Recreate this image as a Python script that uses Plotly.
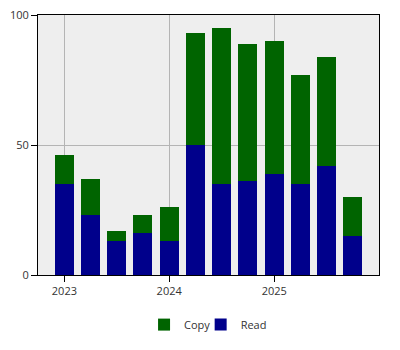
import plotly.graph_objects as go

quarters = ["2023-01-01", "2023-04-01", "2023-07-01", "2023-10-01",
            "2024-01-01", "2024-04-01", "2024-07-01", "2024-10-01",
            "2025-01-01", "2025-04-01", "2025-07-01", "2025-10-01"]
read = [35, 23, 13, 16, 13, 50, 35, 36, 39, 35, 42, 15]
copy = [11, 14, 4, 7, 13, 43, 60, 53, 51, 42, 42, 15]
x_ticks = ["2023-01-01", "2024-01-01", "2025-01-01"]
x_tick_labels = ["2023", "2024", "2025"]
y_ticks = [0, 50, 100]

bar_w = 66 * 86400000

fig = go.Figure()
fig.add_trace(go.Bar(x=quarters, y=read, name="Read", marker_color="#00008B",
                     marker_line_width=0, width=[bar_w] * len(quarters),
                     legend="legend2"))
fig.add_trace(go.Bar(x=quarters, y=copy, name="Copy", marker_color="#006400",
                     marker_line_width=0, width=[bar_w] * len(quarters),
                     legend="legend"))

leg_common = dict(orientation="h", xanchor="left", y=-0.135, yanchor="top",
                  font=dict(size=11), itemwidth=30, bgcolor="rgba(0,0,0,0)")

fig.update_layout(
    width=400, height=350,
    margin=dict(l=38, r=21, t=15, b=75, autoexpand=False),
    barmode="stack",
    plot_bgcolor="#eeeeee",
    paper_bgcolor="white",
    font=dict(family="Open Sans", size=11, color="#333333"),
    showlegend=True,
    legend=dict(x=0.311, **leg_common),
    legend2=dict(x=0.477, **leg_common),
    xaxis=dict(type="date", range=["2022-10-01", "2026-01-01"],
               tickvals=x_ticks, ticktext=x_tick_labels,
               showgrid=True, gridcolor="#b4b4b4", gridwidth=1,
               showline=True, linecolor="black", linewidth=1, mirror=True,
               ticks="outside", ticklen=6, tickcolor="black", zeroline=False),
    yaxis=dict(range=[0, 100], tickvals=y_ticks,
               showgrid=True, gridcolor="#b4b4b4", gridwidth=1,
               showline=True, linecolor="black", linewidth=1, mirror=True,
               ticks="outside", ticklen=6, tickcolor="black", zeroline=False),
)

fig.write_html("out.html")
